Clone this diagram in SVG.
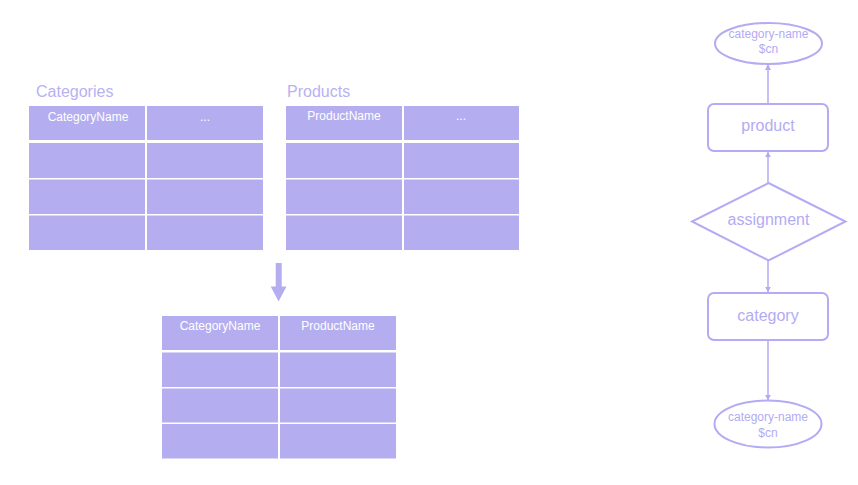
<svg xmlns="http://www.w3.org/2000/svg" width="858" height="485" viewBox="0 0 858 485">
<defs>
<style>
.cell{fill:#b4aef0;}
.title{font-family:"Liberation Sans",Arial,sans-serif;font-size:16px;fill:#b8b1f2;}
.hdr{font-family:"Liberation Sans",Arial,sans-serif;font-size:12px;fill:#ffffff;text-anchor:middle;}
.node{fill:#ffffff;stroke:#b3abf3;stroke-width:2;}
.ntext{font-family:"Liberation Sans",Arial,sans-serif;font-size:16px;fill:#b3abf3;text-anchor:middle;}
.etext{font-family:"Liberation Sans",Arial,sans-serif;font-size:12px;fill:#b3abf3;text-anchor:middle;}
.conn{stroke:#b3abf3;stroke-width:1.5;fill:none;marker-end:url(#ah);}
</style>
<marker id="ah" viewBox="0 0 10 10" refX="9" refY="5" markerWidth="6" markerHeight="6" markerUnits="userSpaceOnUse" orient="auto">
<path d="M0,0 L10,5 L0,10 z" fill="#b3abf3"/>
</marker>
</defs>
<rect width="858" height="485" fill="#ffffff"/>

<g id="categories">
<text class="title" x="36" y="97">Categories</text>
<rect class="cell" x="29" y="106" width="116" height="34"/>
<rect class="cell" x="147" y="106" width="116" height="34"/>
<rect class="cell" x="29" y="143" width="116" height="35"/>
<rect class="cell" x="147" y="143" width="116" height="35"/>
<rect class="cell" x="29" y="179.5" width="116" height="34.5"/>
<rect class="cell" x="147" y="179.5" width="116" height="34.5"/>
<rect class="cell" x="29" y="215.5" width="116" height="34.5"/>
<rect class="cell" x="147" y="215.5" width="116" height="34.5"/>
<text class="hdr" x="88" y="121">CategoryName</text>
<text class="hdr" x="205" y="121">...</text>
</g>

<g id="products">
<text class="title" x="287" y="97">Products</text>
<rect class="cell" x="286" y="106" width="116" height="34"/>
<rect class="cell" x="404" y="106" width="115" height="34"/>
<rect class="cell" x="286" y="143" width="116" height="35"/>
<rect class="cell" x="404" y="143" width="115" height="35"/>
<rect class="cell" x="286" y="179.5" width="116" height="34.5"/>
<rect class="cell" x="404" y="179.5" width="115" height="34.5"/>
<rect class="cell" x="286" y="215.5" width="116" height="34.5"/>
<rect class="cell" x="404" y="215.5" width="115" height="34.5"/>
<text class="hdr" x="344" y="120">ProductName</text>
<text class="hdr" x="461" y="120">...</text>
</g>

<g id="join-arrow">
<rect x="275.7" y="263" width="6" height="24" fill="#b4aef0"/>
<path d="M270.7,286.5 L286.5,286.5 L278.6,301.5 z" fill="#b4aef0"/>
</g>

<g id="result">
<rect class="cell" x="162" y="316" width="116" height="34"/>
<rect class="cell" x="280" y="316" width="116" height="34"/>
<rect class="cell" x="162" y="352.5" width="116" height="34.5"/>
<rect class="cell" x="280" y="352.5" width="116" height="34.5"/>
<rect class="cell" x="162" y="388.5" width="116" height="34"/>
<rect class="cell" x="280" y="388.5" width="116" height="34"/>
<rect class="cell" x="162" y="424" width="116" height="34.5"/>
<rect class="cell" x="280" y="424" width="116" height="34.5"/>
<text class="hdr" x="220" y="330">CategoryName</text>
<text class="hdr" x="338" y="330">ProductName</text>
</g>

<g id="connectors">
<line class="conn" x1="768" y1="104" x2="768" y2="64.5"/>
<line class="conn" x1="768" y1="183" x2="768" y2="152"/>
<line class="conn" x1="768" y1="261" x2="768" y2="292"/>
<line class="conn" x1="768" y1="341" x2="768" y2="400"/>
</g>

<g id="top-var">
<ellipse class="node" cx="768.5" cy="43.5" rx="53.5" ry="20.5"/>
<text class="etext" x="768.5" y="38">category-name</text>
<text class="etext" x="768.5" y="53">$cn</text>
</g>

<g id="product">
<rect class="node" x="708" y="104" width="120" height="47" rx="6"/>
<text class="ntext" x="768" y="131">product</text>
</g>

<g id="assignment">
<path class="node" d="M768.5,183 L845.5,221.5 L768.5,260.5 L692,221.5 z"/>
<text class="ntext" x="768.5" y="225">assignment</text>
</g>

<g id="category">
<rect class="node" x="708" y="293" width="120" height="47" rx="6"/>
<text class="ntext" x="768" y="321">category</text>
</g>

<g id="bottom-var">
<ellipse class="node" cx="768" cy="424" rx="53.5" ry="23.5"/>
<text class="etext" x="768" y="421">category-name</text>
<text class="etext" x="768" y="437">$cn</text>
</g>
</svg>
